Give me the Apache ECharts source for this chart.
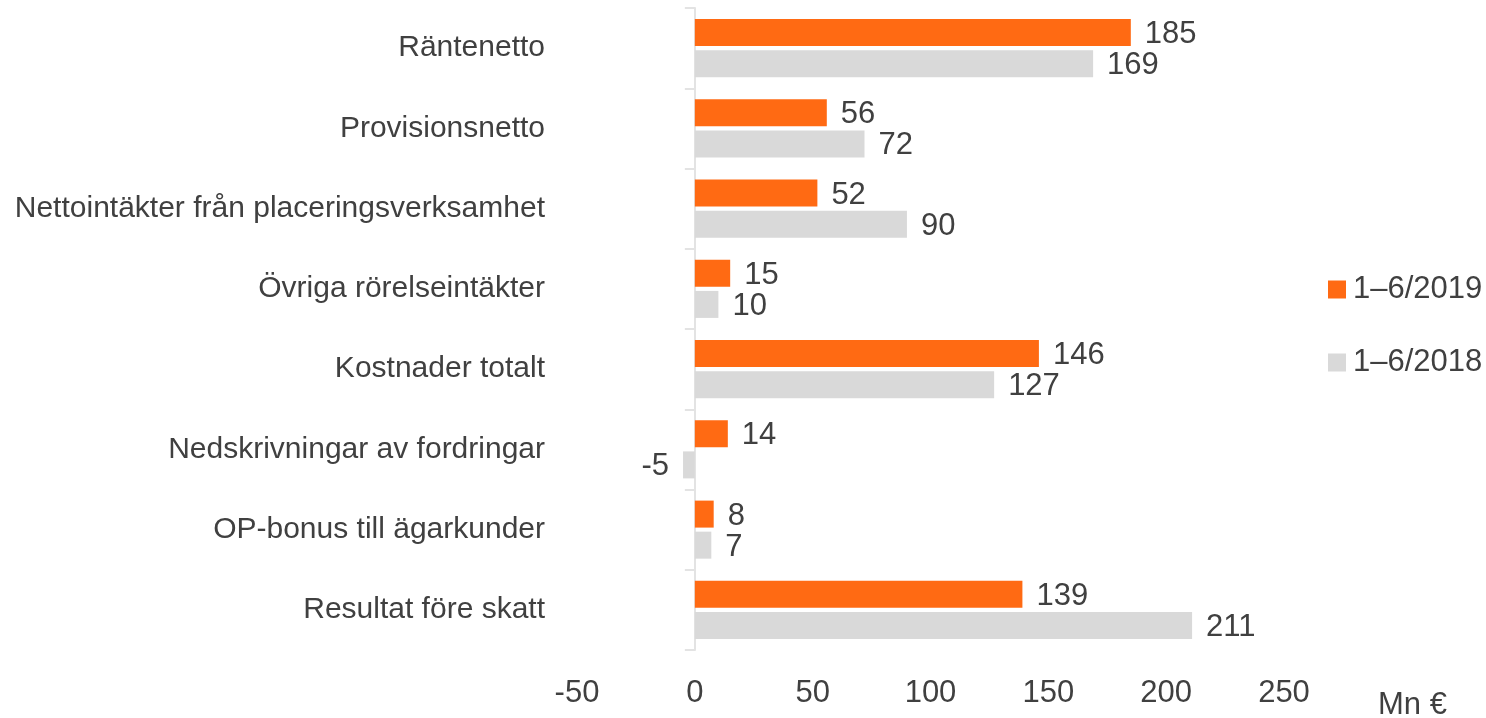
<!DOCTYPE html>
<html>
<head>
<meta charset="utf-8">
<script src="https://cdn.jsdelivr.net/npm/echarts@6/dist/echarts.min.js"></script>
<style>
  html, body { margin: 0; padding: 0; background: #fff; }
  #chart { width: 1486px; height: 718px; }
</style>
</head>
<body>
<div id="chart"></div>
<script>
const categories = [
  "Räntenetto",
  "Provisionsnetto",
  "Nettointäkter från placeringsverksamhet",
  "Övriga rörelseintäkter",
  "Kostnader totalt",
  "Nedskrivningar av fordringar",
  "OP-bonus till ägarkunder",
  "Resultat före skatt"
];
const values2019 = [185, 56, 52, 15, 146, 14, 8, 139];
const values2018 = [169, 72, 90, 10, 127, -5, 7, 211];
const seriesNames = ["1–6/2019", "1–6/2018"];
const unitLabel = "Mn €";

const textColor = "#404040";
const fontFam = "'Liberation Sans', Arial, sans-serif";

const myChart = echarts.init(document.getElementById("chart"));

// value labels next to the bars
function barLabel() {
  return {
    show: true,
    position: "right",
    distance: 14,
    offset: [0, 2],
    color: textColor,
    fontSize: 31,
    fontFamily: fontFam
  };
}

myChart.setOption({
  animation: false,
  textStyle: { fontFamily: fontFam },
  grid: {
    left: 577,
    width: 707,
    top: 8,
    height: 642,
    containLabel: false,
    outerBoundsMode: "none"
  },
  legend: {
    orient: "vertical",
    left: 1323,
    top: 269,
    itemWidth: 18,
    itemHeight: 18,
    itemGap: 42,
    icon: "rect",
    textStyle: { color: textColor, fontSize: 31, fontFamily: fontFam, padding: [0, 0, 0, 2] },
    data: seriesNames
  },
  xAxis: {
    type: "value",
    min: -50,
    max: 250,
    interval: 50,
    axisLine: { show: false },
    axisTick: { show: false },
    splitLine: { show: false },
    axisLabel: { color: textColor, fontSize: 31, fontFamily: fontFam, margin: 28 }
  },
  yAxis: {
    type: "category",
    inverse: true,
    data: categories,
    axisLine: { show: true, onZero: true, lineStyle: { color: "#e3e3e3", width: 2 } },
    axisTick: { show: true, length: 10, lineStyle: { color: "#e3e3e3", width: 2 } },
    axisLabel: { color: textColor, fontSize: 30, fontFamily: fontFam, margin: 32 }
  },
  graphic: [
    {
      type: "text",
      left: 1378,
      top: 690,
      style: { text: unitLabel, fill: textColor, font: "31px " + fontFam }
    }
  ],
  series: [
    {
      name: seriesNames[0],
      type: "bar",
      data: values2019,
      barWidth: 27,
      barGap: "15%",
      itemStyle: { color: "#ff6a13" },
      label: barLabel()
    },
    {
      name: seriesNames[1],
      type: "bar",
      data: values2018.map(v => ({
        value: v,
        label: v < 0 ? { position: "left" } : undefined
      })),
      barWidth: 27,
      itemStyle: { color: "#d9d9d9" },
      label: barLabel()
    }
  ]
});
</script>
</body>
</html>
